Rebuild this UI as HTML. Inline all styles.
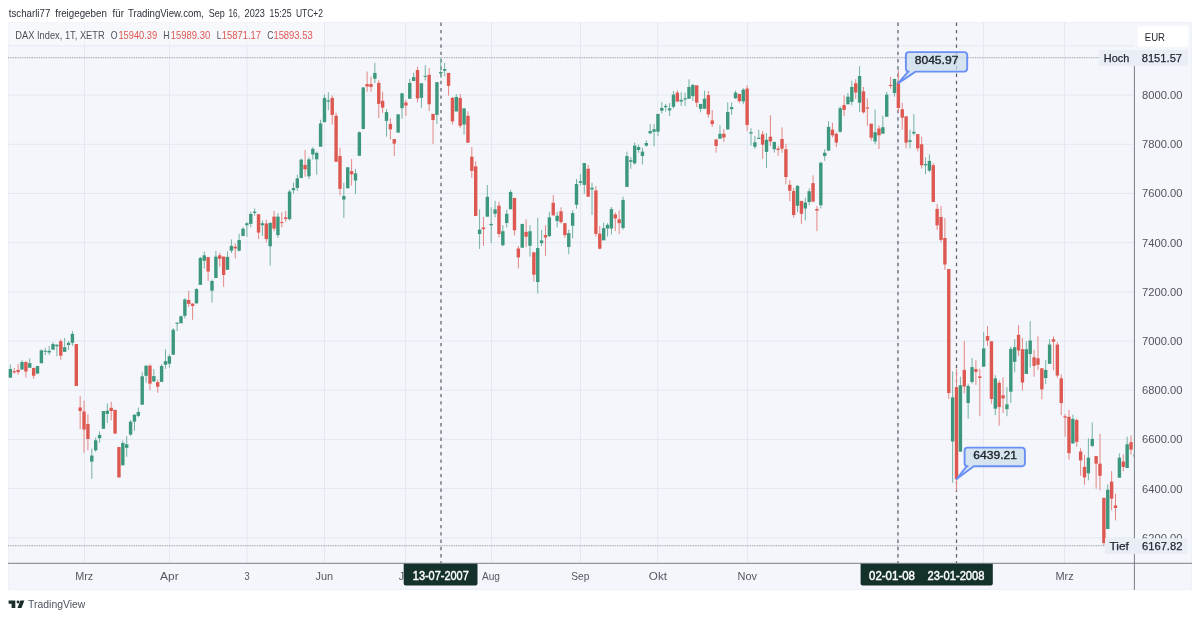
<!DOCTYPE html>
<html lang="de"><head><meta charset="utf-8"><title>DAX Index Chart</title>
<style>
html,body{margin:0;padding:0;background:#fff;}
body{width:1200px;height:619px;overflow:hidden;position:relative;font-family:"Liberation Sans", "DejaVu Sans", sans-serif;}
svg{position:absolute;left:0;top:0;display:block;}
svg text{font-family:"Liberation Sans", "DejaVu Sans", sans-serif;}
</style></head><body>
<svg width="1200" height="619" viewBox="0 0 1200 619">
<rect x="8" y="22" width="1184" height="568" fill="#f4f6fb"/>
<rect x="8.5" y="22.5" width="1183" height="567" fill="none" stroke="#ecf0f7" stroke-width="1"/>
<line x1="8" x2="1134" y1="537.81" y2="537.81" stroke="#e3e8f3" stroke-width="1"/>
<line x1="8" x2="1134" y1="488.62" y2="488.62" stroke="#e3e8f3" stroke-width="1"/>
<line x1="8" x2="1134" y1="439.43" y2="439.43" stroke="#e3e8f3" stroke-width="1"/>
<line x1="8" x2="1134" y1="390.24" y2="390.24" stroke="#e3e8f3" stroke-width="1"/>
<line x1="8" x2="1134" y1="341.05" y2="341.05" stroke="#e3e8f3" stroke-width="1"/>
<line x1="8" x2="1134" y1="291.86" y2="291.86" stroke="#e3e8f3" stroke-width="1"/>
<line x1="8" x2="1134" y1="242.67" y2="242.67" stroke="#e3e8f3" stroke-width="1"/>
<line x1="8" x2="1134" y1="193.48" y2="193.48" stroke="#e3e8f3" stroke-width="1"/>
<line x1="8" x2="1134" y1="144.29" y2="144.29" stroke="#e3e8f3" stroke-width="1"/>
<line x1="8" x2="1134" y1="95.10" y2="95.10" stroke="#e3e8f3" stroke-width="1"/>
<line x1="8" x2="1134" y1="45.91" y2="45.91" stroke="#e3e8f3" stroke-width="1"/>
<line x1="84.50" x2="84.50" y1="22" y2="563" stroke="#e3e8f3" stroke-width="1"/>
<line x1="169.50" x2="169.50" y1="22" y2="563" stroke="#e3e8f3" stroke-width="1"/>
<line x1="247.00" x2="247.00" y1="22" y2="563" stroke="#e3e8f3" stroke-width="1"/>
<line x1="324.50" x2="324.50" y1="22" y2="563" stroke="#e3e8f3" stroke-width="1"/>
<line x1="405.50" x2="405.50" y1="22" y2="563" stroke="#e3e8f3" stroke-width="1"/>
<line x1="491.50" x2="491.50" y1="22" y2="563" stroke="#e3e8f3" stroke-width="1"/>
<line x1="580.50" x2="580.50" y1="22" y2="563" stroke="#e3e8f3" stroke-width="1"/>
<line x1="657.70" x2="657.70" y1="22" y2="563" stroke="#e3e8f3" stroke-width="1"/>
<line x1="747.40" x2="747.40" y1="22" y2="563" stroke="#e3e8f3" stroke-width="1"/>
<line x1="897.60" x2="897.60" y1="22" y2="563" stroke="#e3e8f3" stroke-width="1"/>
<line x1="983.40" x2="983.40" y1="22" y2="563" stroke="#e3e8f3" stroke-width="1"/>
<line x1="1064.50" x2="1064.50" y1="22" y2="563" stroke="#e3e8f3" stroke-width="1"/>
<rect x="8" y="22" width="316" height="23.3" rx="2" fill="#f8f9fc" opacity="0.55"/>
<line x1="8" x2="1099" y1="57.7" y2="57.7" stroke="#a3a8b2" stroke-width="1.2" stroke-dasharray="0.9 0.83"/>
<line x1="8" x2="1105" y1="545.6" y2="545.6" stroke="#a3a8b2" stroke-width="1.2" stroke-dasharray="0.9 0.83"/>
<line x1="441.00" x2="441.00" y1="22" y2="563" stroke="#5a6268" stroke-width="1.25" stroke-dasharray="3.4 3.88" stroke-dashoffset="-0.6"/>
<line x1="898.00" x2="898.00" y1="22" y2="563" stroke="#5a6268" stroke-width="1.25" stroke-dasharray="3.4 3.88" stroke-dashoffset="-0.6"/>
<line x1="956.50" x2="956.50" y1="22" y2="563" stroke="#5a6268" stroke-width="1.25" stroke-dasharray="3.4 3.88" stroke-dashoffset="-0.6"/>
<clipPath id="cp"><rect x="8" y="22" width="1125.7" height="541"/></clipPath>
<g id="candles" clip-path="url(#cp)">
<line x1="10.37" x2="10.37" y1="364.40" y2="377.67" stroke="#74b3a3" stroke-width="1"/>
<rect x="8.67" y="368.95" width="3.4" height="8.72" fill="#3d977d"/>
<line x1="14.25" x2="14.25" y1="367.98" y2="373.80" stroke="#e48784" stroke-width="1"/>
<rect x="12.55" y="371.18" width="3.4" height="1.16" fill="#de5852"/>
<line x1="18.13" x2="18.13" y1="363.91" y2="374.77" stroke="#e48784" stroke-width="1"/>
<rect x="16.43" y="369.92" width="3.4" height="2.23" fill="#de5852"/>
<line x1="22.00" x2="22.00" y1="360.23" y2="369.73" stroke="#74b3a3" stroke-width="1"/>
<rect x="20.30" y="361.98" width="3.4" height="7.55" fill="#3d977d"/>
<line x1="25.88" x2="25.88" y1="361.20" y2="377.48" stroke="#e48784" stroke-width="1"/>
<rect x="24.18" y="361.98" width="3.4" height="9.49" fill="#de5852"/>
<line x1="29.76" x2="29.76" y1="358.29" y2="367.98" stroke="#74b3a3" stroke-width="1"/>
<rect x="28.06" y="363.14" width="3.4" height="4.65" fill="#3d977d"/>
<line x1="33.64" x2="33.64" y1="367.60" y2="378.74" stroke="#e48784" stroke-width="1"/>
<rect x="31.94" y="367.98" width="3.4" height="7.76" fill="#de5852"/>
<line x1="37.51" x2="37.51" y1="366.05" y2="373.60" stroke="#74b3a3" stroke-width="1"/>
<rect x="35.81" y="366.05" width="3.4" height="7.55" fill="#3d977d"/>
<line x1="41.39" x2="41.39" y1="349.38" y2="363.72" stroke="#74b3a3" stroke-width="1"/>
<rect x="39.69" y="350.35" width="3.4" height="12.79" fill="#3d977d"/>
<line x1="45.27" x2="45.27" y1="347.93" y2="355.00" stroke="#74b3a3" stroke-width="1"/>
<rect x="43.57" y="350.81" width="3.4" height="1.00" fill="#3d977d"/>
<line x1="49.15" x2="49.15" y1="345.99" y2="354.90" stroke="#74b3a3" stroke-width="1"/>
<rect x="47.45" y="350.83" width="3.4" height="1.65" fill="#3d977d"/>
<line x1="53.02" x2="53.02" y1="342.11" y2="349.86" stroke="#74b3a3" stroke-width="1"/>
<rect x="51.32" y="344.05" width="3.4" height="5.62" fill="#3d977d"/>
<line x1="56.90" x2="56.90" y1="344.34" y2="356.16" stroke="#74b3a3" stroke-width="1"/>
<rect x="55.20" y="344.73" width="3.4" height="1.55" fill="#3d977d"/>
<line x1="60.78" x2="60.78" y1="339.21" y2="359.84" stroke="#e48784" stroke-width="1"/>
<rect x="59.08" y="341.14" width="3.4" height="14.54" fill="#de5852"/>
<line x1="64.66" x2="64.66" y1="337.95" y2="351.80" stroke="#74b3a3" stroke-width="1"/>
<rect x="62.96" y="347.25" width="3.4" height="4.55" fill="#3d977d"/>
<line x1="68.54" x2="68.54" y1="341.14" y2="349.86" stroke="#74b3a3" stroke-width="1"/>
<rect x="66.84" y="342.79" width="3.4" height="2.23" fill="#3d977d"/>
<line x1="72.41" x2="72.41" y1="331.16" y2="345.79" stroke="#74b3a3" stroke-width="1"/>
<rect x="70.71" y="333.88" width="3.4" height="8.91" fill="#3d977d"/>
<line x1="76.29" x2="76.29" y1="344.05" y2="386.01" stroke="#e48784" stroke-width="1"/>
<rect x="74.59" y="344.05" width="3.4" height="41.96" fill="#de5852"/>
<line x1="80.17" x2="80.17" y1="396.16" y2="429.27" stroke="#e48784" stroke-width="1"/>
<rect x="78.47" y="407.46" width="3.4" height="3.56" fill="#de5852"/>
<line x1="84.05" x2="84.05" y1="400.68" y2="452.70" stroke="#e48784" stroke-width="1"/>
<rect x="82.35" y="411.50" width="3.4" height="18.10" fill="#de5852"/>
<line x1="87.92" x2="87.92" y1="414.25" y2="450.27" stroke="#e48784" stroke-width="1"/>
<rect x="86.22" y="423.94" width="3.4" height="15.03" fill="#de5852"/>
<line x1="91.80" x2="91.80" y1="448.66" y2="478.87" stroke="#74b3a3" stroke-width="1"/>
<rect x="90.10" y="455.61" width="3.4" height="5.97" fill="#3d977d"/>
<line x1="95.68" x2="95.68" y1="437.35" y2="451.89" stroke="#74b3a3" stroke-width="1"/>
<rect x="93.98" y="440.26" width="3.4" height="10.01" fill="#3d977d"/>
<line x1="99.56" x2="99.56" y1="431.37" y2="442.68" stroke="#74b3a3" stroke-width="1"/>
<rect x="97.86" y="434.93" width="3.4" height="3.23" fill="#3d977d"/>
<line x1="103.43" x2="103.43" y1="411.02" y2="428.79" stroke="#74b3a3" stroke-width="1"/>
<rect x="101.73" y="411.02" width="3.4" height="17.77" fill="#3d977d"/>
<line x1="107.31" x2="107.31" y1="403.42" y2="422.81" stroke="#74b3a3" stroke-width="1"/>
<rect x="105.61" y="410.69" width="3.4" height="3.24" fill="#3d977d"/>
<line x1="111.19" x2="111.19" y1="401.81" y2="420.39" stroke="#e48784" stroke-width="1"/>
<rect x="109.49" y="407.79" width="3.4" height="3.23" fill="#de5852"/>
<line x1="115.07" x2="115.07" y1="409.89" y2="433.63" stroke="#e48784" stroke-width="1"/>
<rect x="113.37" y="409.89" width="3.4" height="23.74" fill="#de5852"/>
<line x1="118.95" x2="118.95" y1="447.04" y2="477.42" stroke="#e48784" stroke-width="1"/>
<rect x="117.25" y="447.04" width="3.4" height="30.38" fill="#de5852"/>
<line x1="122.82" x2="122.82" y1="440.58" y2="465.30" stroke="#74b3a3" stroke-width="1"/>
<rect x="121.12" y="443.00" width="3.4" height="22.30" fill="#3d977d"/>
<line x1="126.70" x2="126.70" y1="436.06" y2="456.74" stroke="#74b3a3" stroke-width="1"/>
<rect x="125.00" y="444.30" width="3.4" height="3.55" fill="#3d977d"/>
<line x1="130.58" x2="130.58" y1="420.06" y2="435.74" stroke="#74b3a3" stroke-width="1"/>
<rect x="128.88" y="421.68" width="3.4" height="12.92" fill="#3d977d"/>
<line x1="134.46" x2="134.46" y1="414.25" y2="430.89" stroke="#74b3a3" stroke-width="1"/>
<rect x="132.76" y="414.73" width="3.4" height="6.95" fill="#3d977d"/>
<line x1="138.33" x2="138.33" y1="407.46" y2="417.16" stroke="#74b3a3" stroke-width="1"/>
<rect x="136.63" y="411.99" width="3.4" height="3.87" fill="#3d977d"/>
<line x1="142.21" x2="142.21" y1="372.17" y2="404.72" stroke="#74b3a3" stroke-width="1"/>
<rect x="140.51" y="376.34" width="3.4" height="28.38" fill="#3d977d"/>
<line x1="146.09" x2="146.09" y1="365.39" y2="382.64" stroke="#74b3a3" stroke-width="1"/>
<rect x="144.39" y="365.68" width="3.4" height="10.17" fill="#3d977d"/>
<line x1="149.97" x2="149.97" y1="364.22" y2="390.19" stroke="#e48784" stroke-width="1"/>
<rect x="148.27" y="365.68" width="3.4" height="17.92" fill="#de5852"/>
<line x1="153.84" x2="153.84" y1="369.07" y2="381.67" stroke="#74b3a3" stroke-width="1"/>
<rect x="152.14" y="376.05" width="3.4" height="5.42" fill="#3d977d"/>
<line x1="157.72" x2="157.72" y1="379.53" y2="392.81" stroke="#e48784" stroke-width="1"/>
<rect x="156.02" y="382.15" width="3.4" height="4.56" fill="#de5852"/>
<line x1="161.60" x2="161.60" y1="364.22" y2="381.86" stroke="#74b3a3" stroke-width="1"/>
<rect x="159.90" y="365.97" width="3.4" height="15.89" fill="#3d977d"/>
<line x1="165.48" x2="165.48" y1="349.21" y2="368.88" stroke="#74b3a3" stroke-width="1"/>
<rect x="163.78" y="361.12" width="3.4" height="3.59" fill="#3d977d"/>
<line x1="169.36" x2="169.36" y1="354.34" y2="367.62" stroke="#74b3a3" stroke-width="1"/>
<rect x="167.66" y="356.28" width="3.4" height="7.46" fill="#3d977d"/>
<line x1="173.23" x2="173.23" y1="328.16" y2="354.73" stroke="#74b3a3" stroke-width="1"/>
<rect x="171.53" y="329.71" width="3.4" height="25.02" fill="#3d977d"/>
<line x1="177.11" x2="177.11" y1="322.34" y2="331.00" stroke="#74b3a3" stroke-width="1"/>
<rect x="175.41" y="322.73" width="3.4" height="1.03" fill="#3d977d"/>
<line x1="180.99" x2="180.99" y1="315.49" y2="323.25" stroke="#74b3a3" stroke-width="1"/>
<rect x="179.29" y="316.27" width="3.4" height="6.98" fill="#3d977d"/>
<line x1="184.87" x2="184.87" y1="298.17" y2="318.47" stroke="#74b3a3" stroke-width="1"/>
<rect x="183.17" y="299.47" width="3.4" height="16.41" fill="#3d977d"/>
<line x1="188.74" x2="188.74" y1="290.68" y2="306.83" stroke="#e48784" stroke-width="1"/>
<rect x="187.04" y="299.98" width="3.4" height="3.88" fill="#de5852"/>
<line x1="192.62" x2="192.62" y1="303.34" y2="319.76" stroke="#e48784" stroke-width="1"/>
<rect x="190.92" y="303.60" width="3.4" height="2.33" fill="#de5852"/>
<line x1="196.50" x2="196.50" y1="288.09" y2="303.60" stroke="#74b3a3" stroke-width="1"/>
<rect x="194.80" y="289.13" width="3.4" height="14.21" fill="#3d977d"/>
<line x1="200.38" x2="200.38" y1="256.87" y2="284.86" stroke="#74b3a3" stroke-width="1"/>
<rect x="198.68" y="257.90" width="3.4" height="26.96" fill="#3d977d"/>
<line x1="204.25" x2="204.25" y1="251.44" y2="268.50" stroke="#74b3a3" stroke-width="1"/>
<rect x="202.55" y="255.32" width="3.4" height="5.42" fill="#3d977d"/>
<line x1="208.13" x2="208.13" y1="257.12" y2="280.99" stroke="#e48784" stroke-width="1"/>
<rect x="206.43" y="257.12" width="3.4" height="14.43" fill="#de5852"/>
<line x1="212.01" x2="212.01" y1="279.69" y2="302.57" stroke="#74b3a3" stroke-width="1"/>
<rect x="210.31" y="280.99" width="3.4" height="9.69" fill="#3d977d"/>
<line x1="215.89" x2="215.89" y1="251.05" y2="278.01" stroke="#74b3a3" stroke-width="1"/>
<rect x="214.19" y="256.61" width="3.4" height="21.40" fill="#3d977d"/>
<line x1="219.77" x2="219.77" y1="252.73" y2="266.56" stroke="#e48784" stroke-width="1"/>
<rect x="218.07" y="255.32" width="3.4" height="3.48" fill="#de5852"/>
<line x1="223.64" x2="223.64" y1="256.61" y2="286.80" stroke="#e48784" stroke-width="1"/>
<rect x="221.94" y="256.61" width="3.4" height="18.30" fill="#de5852"/>
<line x1="227.52" x2="227.52" y1="251.44" y2="269.79" stroke="#74b3a3" stroke-width="1"/>
<rect x="225.82" y="256.87" width="3.4" height="12.92" fill="#3d977d"/>
<line x1="231.40" x2="231.40" y1="239.42" y2="252.99" stroke="#74b3a3" stroke-width="1"/>
<rect x="229.70" y="245.88" width="3.4" height="4.78" fill="#3d977d"/>
<line x1="235.28" x2="235.28" y1="243.30" y2="258.42" stroke="#e48784" stroke-width="1"/>
<rect x="233.58" y="246.79" width="3.4" height="1.68" fill="#de5852"/>
<line x1="239.15" x2="239.15" y1="233.86" y2="251.44" stroke="#74b3a3" stroke-width="1"/>
<rect x="237.45" y="240.06" width="3.4" height="10.60" fill="#3d977d"/>
<line x1="243.03" x2="243.03" y1="227.14" y2="236.45" stroke="#74b3a3" stroke-width="1"/>
<rect x="241.33" y="228.69" width="3.4" height="7.24" fill="#3d977d"/>
<line x1="246.91" x2="246.91" y1="222.23" y2="236.83" stroke="#74b3a3" stroke-width="1"/>
<rect x="245.21" y="223.26" width="3.4" height="1.94" fill="#3d977d"/>
<line x1="250.79" x2="250.79" y1="211.63" y2="227.40" stroke="#74b3a3" stroke-width="1"/>
<rect x="249.09" y="213.96" width="3.4" height="9.95" fill="#3d977d"/>
<line x1="254.67" x2="254.67" y1="208.40" y2="215.77" stroke="#74b3a3" stroke-width="1"/>
<rect x="252.97" y="211.63" width="3.4" height="1.29" fill="#3d977d"/>
<line x1="258.54" x2="258.54" y1="214.22" y2="239.03" stroke="#e48784" stroke-width="1"/>
<rect x="256.84" y="214.22" width="3.4" height="18.35" fill="#de5852"/>
<line x1="262.42" x2="262.42" y1="220.42" y2="235.93" stroke="#74b3a3" stroke-width="1"/>
<rect x="260.72" y="223.26" width="3.4" height="1.94" fill="#3d977d"/>
<line x1="266.30" x2="266.30" y1="219.64" y2="242.39" stroke="#e48784" stroke-width="1"/>
<rect x="264.60" y="223.52" width="3.4" height="15.51" fill="#de5852"/>
<line x1="270.18" x2="270.18" y1="221.97" y2="265.65" stroke="#74b3a3" stroke-width="1"/>
<rect x="268.48" y="223.00" width="3.4" height="23.27" fill="#3d977d"/>
<line x1="274.05" x2="274.05" y1="210.93" y2="231.22" stroke="#e48784" stroke-width="1"/>
<rect x="272.35" y="216.62" width="3.4" height="12.01" fill="#de5852"/>
<line x1="277.93" x2="277.93" y1="213.13" y2="237.68" stroke="#74b3a3" stroke-width="1"/>
<rect x="276.23" y="216.62" width="3.4" height="18.48" fill="#3d977d"/>
<line x1="281.81" x2="281.81" y1="212.22" y2="227.34" stroke="#e48784" stroke-width="1"/>
<rect x="280.11" y="222.12" width="3.4" height="1.00" fill="#de5852"/>
<line x1="285.69" x2="285.69" y1="210.93" y2="221.79" stroke="#e48784" stroke-width="1"/>
<rect x="283.99" y="217.39" width="3.4" height="1.55" fill="#de5852"/>
<line x1="289.56" x2="289.56" y1="189.86" y2="220.23" stroke="#74b3a3" stroke-width="1"/>
<rect x="287.86" y="191.54" width="3.4" height="27.66" fill="#3d977d"/>
<line x1="293.44" x2="293.44" y1="182.50" y2="193.74" stroke="#74b3a3" stroke-width="1"/>
<rect x="291.74" y="188.18" width="3.4" height="2.07" fill="#3d977d"/>
<line x1="297.32" x2="297.32" y1="174.66" y2="190.77" stroke="#74b3a3" stroke-width="1"/>
<rect x="295.62" y="178.38" width="3.4" height="9.54" fill="#3d977d"/>
<line x1="301.20" x2="301.20" y1="158.51" y2="178.38" stroke="#74b3a3" stroke-width="1"/>
<rect x="299.50" y="159.64" width="3.4" height="18.25" fill="#3d977d"/>
<line x1="305.08" x2="305.08" y1="149.94" y2="176.76" stroke="#e48784" stroke-width="1"/>
<rect x="303.38" y="164.97" width="3.4" height="4.36" fill="#de5852"/>
<line x1="308.95" x2="308.95" y1="157.37" y2="179.02" stroke="#74b3a3" stroke-width="1"/>
<rect x="307.25" y="159.31" width="3.4" height="16.97" fill="#3d977d"/>
<line x1="312.83" x2="312.83" y1="147.20" y2="159.64" stroke="#74b3a3" stroke-width="1"/>
<rect x="311.13" y="148.81" width="3.4" height="5.66" fill="#3d977d"/>
<line x1="316.71" x2="316.71" y1="151.56" y2="174.66" stroke="#74b3a3" stroke-width="1"/>
<rect x="315.01" y="152.85" width="3.4" height="6.46" fill="#3d977d"/>
<line x1="320.59" x2="320.59" y1="119.73" y2="146.71" stroke="#74b3a3" stroke-width="1"/>
<rect x="318.89" y="123.45" width="3.4" height="23.26" fill="#3d977d"/>
<line x1="324.46" x2="324.46" y1="94.37" y2="122.16" stroke="#74b3a3" stroke-width="1"/>
<rect x="322.76" y="97.92" width="3.4" height="24.24" fill="#3d977d"/>
<line x1="328.34" x2="328.34" y1="92.27" y2="110.04" stroke="#74b3a3" stroke-width="1"/>
<rect x="326.64" y="100.35" width="3.4" height="1.29" fill="#3d977d"/>
<line x1="332.22" x2="332.22" y1="95.50" y2="124.58" stroke="#e48784" stroke-width="1"/>
<rect x="330.52" y="97.92" width="3.4" height="16.97" fill="#de5852"/>
<line x1="336.10" x2="336.10" y1="112.79" y2="161.74" stroke="#e48784" stroke-width="1"/>
<rect x="334.40" y="115.69" width="3.4" height="46.05" fill="#de5852"/>
<line x1="339.97" x2="339.97" y1="147.68" y2="195.37" stroke="#e48784" stroke-width="1"/>
<rect x="338.27" y="156.08" width="3.4" height="32.80" fill="#de5852"/>
<line x1="343.85" x2="343.85" y1="182.77" y2="217.95" stroke="#74b3a3" stroke-width="1"/>
<rect x="342.15" y="196.05" width="3.4" height="3.48" fill="#3d977d"/>
<line x1="347.73" x2="347.73" y1="167.27" y2="188.29" stroke="#74b3a3" stroke-width="1"/>
<rect x="346.03" y="167.27" width="3.4" height="21.02" fill="#3d977d"/>
<line x1="351.61" x2="351.61" y1="158.99" y2="185.68" stroke="#e48784" stroke-width="1"/>
<rect x="349.91" y="171.14" width="3.4" height="3.20" fill="#de5852"/>
<line x1="355.49" x2="355.49" y1="168.91" y2="193.91" stroke="#74b3a3" stroke-width="1"/>
<rect x="353.79" y="173.37" width="3.4" height="7.17" fill="#3d977d"/>
<line x1="359.36" x2="359.36" y1="131.53" y2="156.08" stroke="#74b3a3" stroke-width="1"/>
<rect x="357.66" y="132.17" width="3.4" height="23.59" fill="#3d977d"/>
<line x1="363.24" x2="363.24" y1="86.98" y2="129.43" stroke="#74b3a3" stroke-width="1"/>
<rect x="361.54" y="87.46" width="3.4" height="41.48" fill="#3d977d"/>
<line x1="367.12" x2="367.12" y1="71.47" y2="91.82" stroke="#e48784" stroke-width="1"/>
<rect x="365.42" y="84.07" width="3.4" height="2.42" fill="#de5852"/>
<line x1="371.00" x2="371.00" y1="76.80" y2="91.82" stroke="#e48784" stroke-width="1"/>
<rect x="369.30" y="84.07" width="3.4" height="2.91" fill="#de5852"/>
<line x1="374.87" x2="374.87" y1="62.95" y2="83.10" stroke="#74b3a3" stroke-width="1"/>
<rect x="373.17" y="72.93" width="3.4" height="5.81" fill="#3d977d"/>
<line x1="378.75" x2="378.75" y1="80.19" y2="118.12" stroke="#e48784" stroke-width="1"/>
<rect x="377.05" y="82.91" width="3.4" height="21.02" fill="#de5852"/>
<line x1="382.63" x2="382.63" y1="91.79" y2="112.79" stroke="#e48784" stroke-width="1"/>
<rect x="380.93" y="100.83" width="3.4" height="6.79" fill="#de5852"/>
<line x1="386.51" x2="386.51" y1="109.23" y2="136.70" stroke="#74b3a3" stroke-width="1"/>
<rect x="384.81" y="112.14" width="3.4" height="8.72" fill="#3d977d"/>
<line x1="390.38" x2="390.38" y1="118.26" y2="139.57" stroke="#e48784" stroke-width="1"/>
<rect x="388.68" y="123.88" width="3.4" height="5.52" fill="#de5852"/>
<line x1="394.26" x2="394.26" y1="139.09" y2="155.93" stroke="#e48784" stroke-width="1"/>
<rect x="392.56" y="139.09" width="3.4" height="4.55" fill="#de5852"/>
<line x1="398.14" x2="398.14" y1="114.38" y2="132.60" stroke="#74b3a3" stroke-width="1"/>
<rect x="396.44" y="114.38" width="3.4" height="18.22" fill="#3d977d"/>
<line x1="402.02" x2="402.02" y1="93.28" y2="118.74" stroke="#74b3a3" stroke-width="1"/>
<rect x="400.32" y="93.28" width="3.4" height="14.82" fill="#3d977d"/>
<line x1="405.90" x2="405.90" y1="99.77" y2="115.83" stroke="#e48784" stroke-width="1"/>
<rect x="404.20" y="102.48" width="3.4" height="3.10" fill="#de5852"/>
<line x1="409.77" x2="409.77" y1="78.74" y2="98.80" stroke="#74b3a3" stroke-width="1"/>
<rect x="408.07" y="82.91" width="3.4" height="15.89" fill="#3d977d"/>
<line x1="413.65" x2="413.65" y1="72.64" y2="80.97" stroke="#74b3a3" stroke-width="1"/>
<rect x="411.95" y="77.09" width="3.4" height="3.88" fill="#3d977d"/>
<line x1="417.53" x2="417.53" y1="66.82" y2="102.29" stroke="#e48784" stroke-width="1"/>
<rect x="415.83" y="70.02" width="3.4" height="28.39" fill="#de5852"/>
<line x1="421.41" x2="421.41" y1="83.29" y2="107.81" stroke="#74b3a3" stroke-width="1"/>
<rect x="419.71" y="83.29" width="3.4" height="14.54" fill="#3d977d"/>
<line x1="425.28" x2="425.28" y1="65.17" y2="80.39" stroke="#74b3a3" stroke-width="1"/>
<rect x="423.58" y="75.81" width="3.4" height="1.00" fill="#3d977d"/>
<line x1="429.16" x2="429.16" y1="68.08" y2="111.01" stroke="#e48784" stroke-width="1"/>
<rect x="427.46" y="74.86" width="3.4" height="29.36" fill="#de5852"/>
<line x1="433.04" x2="433.04" y1="113.90" y2="143.93" stroke="#e48784" stroke-width="1"/>
<rect x="431.34" y="113.90" width="3.4" height="6.10" fill="#de5852"/>
<line x1="436.92" x2="436.92" y1="82.13" y2="123.88" stroke="#74b3a3" stroke-width="1"/>
<rect x="435.22" y="82.13" width="3.4" height="32.73" fill="#3d977d"/>
<line x1="440.79" x2="440.79" y1="57.71" y2="78.26" stroke="#74b3a3" stroke-width="1"/>
<rect x="439.09" y="71.96" width="3.4" height="1.45" fill="#3d977d"/>
<line x1="444.67" x2="444.67" y1="62.95" y2="76.32" stroke="#74b3a3" stroke-width="1"/>
<rect x="442.97" y="69.05" width="3.4" height="1.65" fill="#3d977d"/>
<line x1="448.55" x2="448.55" y1="72.93" y2="95.70" stroke="#e48784" stroke-width="1"/>
<rect x="446.85" y="72.93" width="3.4" height="12.88" fill="#de5852"/>
<line x1="452.43" x2="452.43" y1="96.94" y2="124.55" stroke="#e48784" stroke-width="1"/>
<rect x="450.73" y="97.91" width="3.4" height="23.45" fill="#de5852"/>
<line x1="456.31" x2="456.31" y1="94.03" y2="111.47" stroke="#74b3a3" stroke-width="1"/>
<rect x="454.61" y="96.94" width="3.4" height="14.53" fill="#3d977d"/>
<line x1="460.18" x2="460.18" y1="94.03" y2="127.95" stroke="#e48784" stroke-width="1"/>
<rect x="458.48" y="97.91" width="3.4" height="27.90" fill="#de5852"/>
<line x1="464.06" x2="464.06" y1="108.37" y2="134.73" stroke="#74b3a3" stroke-width="1"/>
<rect x="462.36" y="108.37" width="3.4" height="16.18" fill="#3d977d"/>
<line x1="467.94" x2="467.94" y1="111.47" y2="142.67" stroke="#e48784" stroke-width="1"/>
<rect x="466.24" y="115.83" width="3.4" height="26.84" fill="#de5852"/>
<line x1="471.82" x2="471.82" y1="147.02" y2="178.02" stroke="#e48784" stroke-width="1"/>
<rect x="470.12" y="156.71" width="3.4" height="14.14" fill="#de5852"/>
<line x1="475.69" x2="475.69" y1="161.16" y2="216.01" stroke="#e48784" stroke-width="1"/>
<rect x="473.99" y="166.40" width="3.4" height="49.61" fill="#de5852"/>
<line x1="479.57" x2="479.57" y1="209.25" y2="248.99" stroke="#74b3a3" stroke-width="1"/>
<rect x="477.87" y="229.60" width="3.4" height="4.37" fill="#3d977d"/>
<line x1="483.45" x2="483.45" y1="217.00" y2="245.76" stroke="#e48784" stroke-width="1"/>
<rect x="481.75" y="227.50" width="3.4" height="1.62" fill="#de5852"/>
<line x1="487.33" x2="487.33" y1="185.02" y2="216.68" stroke="#74b3a3" stroke-width="1"/>
<rect x="485.63" y="196.81" width="3.4" height="19.87" fill="#3d977d"/>
<line x1="491.20" x2="491.20" y1="207.31" y2="243.17" stroke="#74b3a3" stroke-width="1"/>
<rect x="489.50" y="223.95" width="3.4" height="1.29" fill="#3d977d"/>
<line x1="495.08" x2="495.08" y1="200.85" y2="217.33" stroke="#74b3a3" stroke-width="1"/>
<rect x="493.38" y="209.41" width="3.4" height="4.36" fill="#3d977d"/>
<line x1="498.96" x2="498.96" y1="201.66" y2="237.20" stroke="#e48784" stroke-width="1"/>
<rect x="497.26" y="205.69" width="3.4" height="28.28" fill="#de5852"/>
<line x1="502.84" x2="502.84" y1="225.08" y2="246.08" stroke="#74b3a3" stroke-width="1"/>
<rect x="501.14" y="231.22" width="3.4" height="14.05" fill="#3d977d"/>
<line x1="506.72" x2="506.72" y1="209.73" y2="227.50" stroke="#74b3a3" stroke-width="1"/>
<rect x="505.02" y="213.77" width="3.4" height="9.21" fill="#3d977d"/>
<line x1="510.59" x2="510.59" y1="189.86" y2="209.25" stroke="#74b3a3" stroke-width="1"/>
<rect x="508.89" y="191.96" width="3.4" height="17.29" fill="#3d977d"/>
<line x1="514.47" x2="514.47" y1="197.94" y2="235.58" stroke="#e48784" stroke-width="1"/>
<rect x="512.77" y="197.94" width="3.4" height="32.31" fill="#de5852"/>
<line x1="518.35" x2="518.35" y1="246.08" y2="268.38" stroke="#e48784" stroke-width="1"/>
<rect x="516.65" y="248.51" width="3.4" height="8.88" fill="#de5852"/>
<line x1="522.23" x2="522.23" y1="223.95" y2="247.70" stroke="#74b3a3" stroke-width="1"/>
<rect x="520.53" y="223.95" width="3.4" height="23.75" fill="#3d977d"/>
<line x1="526.10" x2="526.10" y1="219.43" y2="246.89" stroke="#e48784" stroke-width="1"/>
<rect x="524.40" y="231.87" width="3.4" height="4.84" fill="#de5852"/>
<line x1="529.98" x2="529.98" y1="225.08" y2="256.58" stroke="#74b3a3" stroke-width="1"/>
<rect x="528.28" y="231.22" width="3.4" height="14.54" fill="#3d977d"/>
<line x1="533.86" x2="533.86" y1="252.25" y2="281.51" stroke="#e48784" stroke-width="1"/>
<rect x="532.16" y="252.25" width="3.4" height="22.48" fill="#de5852"/>
<line x1="537.74" x2="537.74" y1="217.81" y2="293.62" stroke="#74b3a3" stroke-width="1"/>
<rect x="536.04" y="248.08" width="3.4" height="33.92" fill="#3d977d"/>
<line x1="541.61" x2="541.61" y1="229.93" y2="246.08" stroke="#74b3a3" stroke-width="1"/>
<rect x="539.91" y="240.43" width="3.4" height="2.74" fill="#3d977d"/>
<line x1="545.49" x2="545.49" y1="225.40" y2="255.78" stroke="#e48784" stroke-width="1"/>
<rect x="543.79" y="235.10" width="3.4" height="2.42" fill="#de5852"/>
<line x1="549.37" x2="549.37" y1="211.83" y2="237.20" stroke="#74b3a3" stroke-width="1"/>
<rect x="547.67" y="217.33" width="3.4" height="18.74" fill="#3d977d"/>
<line x1="553.25" x2="553.25" y1="195.19" y2="215.39" stroke="#e48784" stroke-width="1"/>
<rect x="551.55" y="202.79" width="3.4" height="12.60" fill="#de5852"/>
<line x1="557.13" x2="557.13" y1="211.83" y2="227.50" stroke="#74b3a3" stroke-width="1"/>
<rect x="555.43" y="215.71" width="3.4" height="5.33" fill="#3d977d"/>
<line x1="561.00" x2="561.00" y1="207.31" y2="223.47" stroke="#e48784" stroke-width="1"/>
<rect x="559.30" y="211.35" width="3.4" height="10.82" fill="#de5852"/>
<line x1="564.88" x2="564.88" y1="223.14" y2="237.68" stroke="#e48784" stroke-width="1"/>
<rect x="563.18" y="223.14" width="3.4" height="11.96" fill="#de5852"/>
<line x1="568.76" x2="568.76" y1="229.60" y2="254.16" stroke="#74b3a3" stroke-width="1"/>
<rect x="567.06" y="233.16" width="3.4" height="13.73" fill="#3d977d"/>
<line x1="572.64" x2="572.64" y1="210.25" y2="238.20" stroke="#74b3a3" stroke-width="1"/>
<rect x="570.94" y="213.16" width="3.4" height="12.60" fill="#3d977d"/>
<line x1="576.51" x2="576.51" y1="178.91" y2="208.63" stroke="#74b3a3" stroke-width="1"/>
<rect x="574.81" y="184.08" width="3.4" height="20.68" fill="#3d977d"/>
<line x1="580.39" x2="580.39" y1="174.06" y2="185.69" stroke="#74b3a3" stroke-width="1"/>
<rect x="578.69" y="181.17" width="3.4" height="1.62" fill="#3d977d"/>
<line x1="584.27" x2="584.27" y1="163.08" y2="193.77" stroke="#74b3a3" stroke-width="1"/>
<rect x="582.57" y="163.08" width="3.4" height="21.81" fill="#3d977d"/>
<line x1="588.15" x2="588.15" y1="164.69" y2="196.68" stroke="#e48784" stroke-width="1"/>
<rect x="586.45" y="168.73" width="3.4" height="27.95" fill="#de5852"/>
<line x1="592.02" x2="592.02" y1="182.79" y2="215.10" stroke="#74b3a3" stroke-width="1"/>
<rect x="590.32" y="187.79" width="3.4" height="1.62" fill="#3d977d"/>
<line x1="595.90" x2="595.90" y1="186.02" y2="236.58" stroke="#e48784" stroke-width="1"/>
<rect x="594.20" y="190.54" width="3.4" height="43.30" fill="#de5852"/>
<line x1="599.78" x2="599.78" y1="226.08" y2="249.51" stroke="#e48784" stroke-width="1"/>
<rect x="598.08" y="233.68" width="3.4" height="15.02" fill="#de5852"/>
<line x1="603.66" x2="603.66" y1="222.53" y2="240.30" stroke="#74b3a3" stroke-width="1"/>
<rect x="601.96" y="228.18" width="3.4" height="12.12" fill="#3d977d"/>
<line x1="607.54" x2="607.54" y1="223.17" y2="236.58" stroke="#74b3a3" stroke-width="1"/>
<rect x="605.84" y="224.79" width="3.4" height="3.72" fill="#3d977d"/>
<line x1="611.41" x2="611.41" y1="207.02" y2="234.48" stroke="#74b3a3" stroke-width="1"/>
<rect x="609.71" y="209.12" width="3.4" height="19.39" fill="#3d977d"/>
<line x1="615.29" x2="615.29" y1="212.35" y2="230.93" stroke="#e48784" stroke-width="1"/>
<rect x="613.59" y="214.45" width="3.4" height="4.04" fill="#de5852"/>
<line x1="619.17" x2="619.17" y1="210.25" y2="234.16" stroke="#e48784" stroke-width="1"/>
<rect x="617.47" y="219.30" width="3.4" height="3.87" fill="#de5852"/>
<line x1="623.05" x2="623.05" y1="196.68" y2="229.64" stroke="#74b3a3" stroke-width="1"/>
<rect x="621.35" y="199.91" width="3.4" height="28.11" fill="#3d977d"/>
<line x1="626.92" x2="626.92" y1="151.58" y2="186.83" stroke="#74b3a3" stroke-width="1"/>
<rect x="625.22" y="156.11" width="3.4" height="30.72" fill="#3d977d"/>
<line x1="630.80" x2="630.80" y1="157.24" y2="168.87" stroke="#74b3a3" stroke-width="1"/>
<rect x="629.10" y="160.15" width="3.4" height="1.61" fill="#3d977d"/>
<line x1="634.68" x2="634.68" y1="142.37" y2="164.51" stroke="#74b3a3" stroke-width="1"/>
<rect x="632.98" y="145.61" width="3.4" height="17.77" fill="#3d977d"/>
<line x1="638.56" x2="638.56" y1="144.64" y2="152.71" stroke="#74b3a3" stroke-width="1"/>
<rect x="636.86" y="147.06" width="3.4" height="2.91" fill="#3d977d"/>
<line x1="642.44" x2="642.44" y1="147.54" y2="164.51" stroke="#74b3a3" stroke-width="1"/>
<rect x="640.74" y="151.58" width="3.4" height="4.37" fill="#3d977d"/>
<line x1="646.31" x2="646.31" y1="140.27" y2="146.74" stroke="#74b3a3" stroke-width="1"/>
<rect x="644.61" y="143.02" width="3.4" height="2.59" fill="#3d977d"/>
<line x1="650.19" x2="650.19" y1="124.12" y2="134.30" stroke="#74b3a3" stroke-width="1"/>
<rect x="648.49" y="131.07" width="3.4" height="2.26" fill="#3d977d"/>
<line x1="654.07" x2="654.07" y1="124.12" y2="146.25" stroke="#74b3a3" stroke-width="1"/>
<rect x="652.37" y="129.29" width="3.4" height="2.42" fill="#3d977d"/>
<line x1="657.95" x2="657.95" y1="113.94" y2="135.91" stroke="#74b3a3" stroke-width="1"/>
<rect x="656.25" y="113.94" width="3.4" height="17.77" fill="#3d977d"/>
<line x1="661.82" x2="661.82" y1="101.99" y2="113.62" stroke="#74b3a3" stroke-width="1"/>
<rect x="660.12" y="107.96" width="3.4" height="2.75" fill="#3d977d"/>
<line x1="665.70" x2="665.70" y1="103.93" y2="111.68" stroke="#74b3a3" stroke-width="1"/>
<rect x="664.00" y="105.86" width="3.4" height="1.30" fill="#3d977d"/>
<line x1="669.58" x2="669.58" y1="103.12" y2="116.04" stroke="#74b3a3" stroke-width="1"/>
<rect x="667.88" y="108.29" width="3.4" height="2.10" fill="#3d977d"/>
<line x1="673.46" x2="673.46" y1="91.00" y2="108.45" stroke="#74b3a3" stroke-width="1"/>
<rect x="671.76" y="94.56" width="3.4" height="12.27" fill="#3d977d"/>
<line x1="677.33" x2="677.33" y1="90.19" y2="102.31" stroke="#e48784" stroke-width="1"/>
<rect x="675.63" y="92.62" width="3.4" height="8.88" fill="#de5852"/>
<line x1="681.21" x2="681.21" y1="92.29" y2="105.86" stroke="#74b3a3" stroke-width="1"/>
<rect x="679.51" y="99.89" width="3.4" height="1.61" fill="#3d977d"/>
<line x1="685.09" x2="685.09" y1="92.62" y2="105.86" stroke="#74b3a3" stroke-width="1"/>
<rect x="683.39" y="98.27" width="3.4" height="1.13" fill="#3d977d"/>
<line x1="688.97" x2="688.97" y1="79.37" y2="98.76" stroke="#74b3a3" stroke-width="1"/>
<rect x="687.27" y="86.96" width="3.4" height="11.80" fill="#3d977d"/>
<line x1="692.85" x2="692.85" y1="84.22" y2="101.02" stroke="#74b3a3" stroke-width="1"/>
<rect x="691.15" y="84.86" width="3.4" height="11.31" fill="#3d977d"/>
<line x1="696.72" x2="696.72" y1="85.35" y2="107.16" stroke="#e48784" stroke-width="1"/>
<rect x="695.02" y="85.35" width="3.4" height="17.28" fill="#de5852"/>
<line x1="700.60" x2="700.60" y1="103.93" y2="112.33" stroke="#74b3a3" stroke-width="1"/>
<rect x="698.90" y="103.93" width="3.4" height="4.84" fill="#3d977d"/>
<line x1="704.48" x2="704.48" y1="90.68" y2="108.77" stroke="#74b3a3" stroke-width="1"/>
<rect x="702.78" y="98.76" width="3.4" height="10.01" fill="#3d977d"/>
<line x1="708.36" x2="708.36" y1="91.00" y2="117.66" stroke="#e48784" stroke-width="1"/>
<rect x="706.66" y="95.04" width="3.4" height="19.39" fill="#de5852"/>
<line x1="712.23" x2="712.23" y1="110.06" y2="126.87" stroke="#e48784" stroke-width="1"/>
<rect x="710.53" y="120.40" width="3.4" height="3.72" fill="#de5852"/>
<line x1="716.11" x2="716.11" y1="139.47" y2="152.71" stroke="#e48784" stroke-width="1"/>
<rect x="714.41" y="139.47" width="3.4" height="6.46" fill="#de5852"/>
<line x1="719.99" x2="719.99" y1="125.25" y2="138.66" stroke="#74b3a3" stroke-width="1"/>
<rect x="718.29" y="133.81" width="3.4" height="4.85" fill="#3d977d"/>
<line x1="723.87" x2="723.87" y1="128.97" y2="141.89" stroke="#e48784" stroke-width="1"/>
<rect x="722.17" y="133.81" width="3.4" height="3.72" fill="#de5852"/>
<line x1="727.74" x2="727.74" y1="102.31" y2="129.45" stroke="#74b3a3" stroke-width="1"/>
<rect x="726.04" y="112.00" width="3.4" height="17.45" fill="#3d977d"/>
<line x1="731.62" x2="731.62" y1="102.31" y2="114.91" stroke="#74b3a3" stroke-width="1"/>
<rect x="729.92" y="107.16" width="3.4" height="1.94" fill="#3d977d"/>
<line x1="735.50" x2="735.50" y1="90.68" y2="98.76" stroke="#74b3a3" stroke-width="1"/>
<rect x="733.80" y="92.62" width="3.4" height="5.65" fill="#3d977d"/>
<line x1="739.38" x2="739.38" y1="93.91" y2="103.12" stroke="#e48784" stroke-width="1"/>
<rect x="737.68" y="93.91" width="3.4" height="7.27" fill="#de5852"/>
<line x1="743.26" x2="743.26" y1="88.09" y2="104.25" stroke="#74b3a3" stroke-width="1"/>
<rect x="741.56" y="89.71" width="3.4" height="11.79" fill="#3d977d"/>
<line x1="747.13" x2="747.13" y1="85.35" y2="131.07" stroke="#e48784" stroke-width="1"/>
<rect x="745.43" y="88.58" width="3.4" height="36.35" fill="#de5852"/>
<line x1="751.01" x2="751.01" y1="128.16" y2="145.61" stroke="#74b3a3" stroke-width="1"/>
<rect x="749.31" y="132.20" width="3.4" height="1.29" fill="#3d977d"/>
<line x1="754.89" x2="754.89" y1="135.91" y2="148.84" stroke="#74b3a3" stroke-width="1"/>
<rect x="753.19" y="142.37" width="3.4" height="4.37" fill="#3d977d"/>
<line x1="758.77" x2="758.77" y1="129.77" y2="138.98" stroke="#74b3a3" stroke-width="1"/>
<rect x="757.07" y="137.85" width="3.4" height="1.13" fill="#3d977d"/>
<line x1="762.64" x2="762.64" y1="131.07" y2="158.85" stroke="#e48784" stroke-width="1"/>
<rect x="760.94" y="134.30" width="3.4" height="10.34" fill="#de5852"/>
<line x1="766.52" x2="766.52" y1="133.00" y2="168.06" stroke="#74b3a3" stroke-width="1"/>
<rect x="764.82" y="139.79" width="3.4" height="12.12" fill="#3d977d"/>
<line x1="770.40" x2="770.40" y1="115.23" y2="146.25" stroke="#e48784" stroke-width="1"/>
<rect x="768.70" y="136.72" width="3.4" height="4.69" fill="#de5852"/>
<line x1="774.28" x2="774.28" y1="141.89" y2="152.71" stroke="#74b3a3" stroke-width="1"/>
<rect x="772.58" y="141.89" width="3.4" height="7.27" fill="#3d977d"/>
<line x1="778.15" x2="778.15" y1="145.93" y2="155.95" stroke="#e48784" stroke-width="1"/>
<rect x="776.45" y="148.68" width="3.4" height="1.29" fill="#de5852"/>
<line x1="782.03" x2="782.03" y1="127.35" y2="152.71" stroke="#e48784" stroke-width="1"/>
<rect x="780.33" y="138.98" width="3.4" height="9.70" fill="#de5852"/>
<line x1="785.91" x2="785.91" y1="143.89" y2="184.27" stroke="#e48784" stroke-width="1"/>
<rect x="784.21" y="149.22" width="3.4" height="27.78" fill="#de5852"/>
<line x1="789.79" x2="789.79" y1="179.91" y2="201.24" stroke="#e48784" stroke-width="1"/>
<rect x="788.09" y="184.76" width="3.4" height="5.98" fill="#de5852"/>
<line x1="793.67" x2="793.67" y1="187.99" y2="217.71" stroke="#e48784" stroke-width="1"/>
<rect x="791.97" y="191.06" width="3.4" height="23.91" fill="#de5852"/>
<line x1="797.54" x2="797.54" y1="185.08" y2="212.22" stroke="#74b3a3" stroke-width="1"/>
<rect x="795.84" y="185.89" width="3.4" height="19.87" fill="#3d977d"/>
<line x1="801.42" x2="801.42" y1="200.91" y2="223.85" stroke="#e48784" stroke-width="1"/>
<rect x="799.72" y="200.91" width="3.4" height="12.93" fill="#de5852"/>
<line x1="805.30" x2="805.30" y1="197.68" y2="220.62" stroke="#74b3a3" stroke-width="1"/>
<rect x="803.60" y="202.53" width="3.4" height="5.98" fill="#3d977d"/>
<line x1="809.18" x2="809.18" y1="188.31" y2="205.27" stroke="#74b3a3" stroke-width="1"/>
<rect x="807.48" y="191.22" width="3.4" height="10.82" fill="#3d977d"/>
<line x1="813.05" x2="813.05" y1="175.39" y2="202.53" stroke="#e48784" stroke-width="1"/>
<rect x="811.35" y="183.14" width="3.4" height="18.42" fill="#de5852"/>
<line x1="816.93" x2="816.93" y1="206.08" y2="231.12" stroke="#e48784" stroke-width="1"/>
<rect x="815.23" y="208.99" width="3.4" height="1.62" fill="#de5852"/>
<line x1="820.81" x2="820.81" y1="161.66" y2="208.51" stroke="#74b3a3" stroke-width="1"/>
<rect x="819.11" y="162.79" width="3.4" height="42.48" fill="#3d977d"/>
<line x1="824.69" x2="824.69" y1="149.22" y2="160.85" stroke="#74b3a3" stroke-width="1"/>
<rect x="822.99" y="152.77" width="3.4" height="3.23" fill="#3d977d"/>
<line x1="828.56" x2="828.56" y1="121.24" y2="150.64" stroke="#74b3a3" stroke-width="1"/>
<rect x="826.86" y="126.89" width="3.4" height="23.75" fill="#3d977d"/>
<line x1="832.44" x2="832.44" y1="122.85" y2="137.39" stroke="#e48784" stroke-width="1"/>
<rect x="830.74" y="129.64" width="3.4" height="5.65" fill="#de5852"/>
<line x1="836.32" x2="836.32" y1="132.22" y2="147.08" stroke="#e48784" stroke-width="1"/>
<rect x="834.62" y="133.84" width="3.4" height="8.72" fill="#de5852"/>
<line x1="840.20" x2="840.20" y1="106.37" y2="132.87" stroke="#74b3a3" stroke-width="1"/>
<rect x="838.50" y="108.31" width="3.4" height="23.43" fill="#3d977d"/>
<line x1="844.08" x2="844.08" y1="95.39" y2="116.07" stroke="#e48784" stroke-width="1"/>
<rect x="842.38" y="105.08" width="3.4" height="4.85" fill="#de5852"/>
<line x1="847.95" x2="847.95" y1="92.96" y2="104.27" stroke="#74b3a3" stroke-width="1"/>
<rect x="846.25" y="96.68" width="3.4" height="7.59" fill="#3d977d"/>
<line x1="851.83" x2="851.83" y1="80.85" y2="105.40" stroke="#74b3a3" stroke-width="1"/>
<rect x="850.13" y="86.99" width="3.4" height="14.86" fill="#3d977d"/>
<line x1="855.71" x2="855.71" y1="79.23" y2="98.94" stroke="#e48784" stroke-width="1"/>
<rect x="854.01" y="83.27" width="3.4" height="9.21" fill="#de5852"/>
<line x1="859.59" x2="859.59" y1="66.31" y2="111.87" stroke="#74b3a3" stroke-width="1"/>
<rect x="857.89" y="76.00" width="3.4" height="26.66" fill="#3d977d"/>
<line x1="863.46" x2="863.46" y1="86.99" y2="113.48" stroke="#e48784" stroke-width="1"/>
<rect x="861.76" y="91.35" width="3.4" height="21.00" fill="#de5852"/>
<line x1="867.34" x2="867.34" y1="98.30" y2="125.76" stroke="#e48784" stroke-width="1"/>
<rect x="865.64" y="107.50" width="3.4" height="1.13" fill="#de5852"/>
<line x1="871.22" x2="871.22" y1="123.66" y2="140.62" stroke="#e48784" stroke-width="1"/>
<rect x="869.52" y="123.66" width="3.4" height="14.05" fill="#de5852"/>
<line x1="875.10" x2="875.10" y1="109.60" y2="144.18" stroke="#74b3a3" stroke-width="1"/>
<rect x="873.40" y="132.22" width="3.4" height="9.21" fill="#3d977d"/>
<line x1="878.97" x2="878.97" y1="125.27" y2="149.02" stroke="#e48784" stroke-width="1"/>
<rect x="877.27" y="128.51" width="3.4" height="6.78" fill="#de5852"/>
<line x1="882.85" x2="882.85" y1="115.58" y2="133.68" stroke="#74b3a3" stroke-width="1"/>
<rect x="881.15" y="127.21" width="3.4" height="6.47" fill="#3d977d"/>
<line x1="886.73" x2="886.73" y1="91.83" y2="116.71" stroke="#74b3a3" stroke-width="1"/>
<rect x="885.03" y="94.58" width="3.4" height="22.13" fill="#3d977d"/>
<line x1="890.61" x2="890.61" y1="76.81" y2="88.60" stroke="#e48784" stroke-width="1"/>
<rect x="888.91" y="84.89" width="3.4" height="1.13" fill="#de5852"/>
<line x1="894.49" x2="894.49" y1="78.91" y2="96.68" stroke="#74b3a3" stroke-width="1"/>
<rect x="892.79" y="78.91" width="3.4" height="14.05" fill="#3d977d"/>
<line x1="898.36" x2="898.36" y1="70.35" y2="112.35" stroke="#e48784" stroke-width="1"/>
<rect x="896.66" y="82.79" width="3.4" height="25.20" fill="#de5852"/>
<line x1="902.24" x2="902.24" y1="102.75" y2="129.73" stroke="#e48784" stroke-width="1"/>
<rect x="900.54" y="109.22" width="3.4" height="8.40" fill="#de5852"/>
<line x1="906.12" x2="906.12" y1="116.32" y2="148.31" stroke="#e48784" stroke-width="1"/>
<rect x="904.42" y="116.32" width="3.4" height="26.34" fill="#de5852"/>
<line x1="910.00" x2="910.00" y1="129.73" y2="148.31" stroke="#74b3a3" stroke-width="1"/>
<rect x="908.30" y="140.23" width="3.4" height="1.62" fill="#3d977d"/>
<line x1="913.87" x2="913.87" y1="114.06" y2="135.39" stroke="#74b3a3" stroke-width="1"/>
<rect x="912.17" y="131.83" width="3.4" height="1.62" fill="#3d977d"/>
<line x1="917.75" x2="917.75" y1="134.10" y2="151.22" stroke="#e48784" stroke-width="1"/>
<rect x="916.05" y="134.10" width="3.4" height="14.21" fill="#de5852"/>
<line x1="921.63" x2="921.63" y1="136.68" y2="168.51" stroke="#e48784" stroke-width="1"/>
<rect x="919.93" y="144.27" width="3.4" height="21.00" fill="#de5852"/>
<line x1="925.51" x2="925.51" y1="157.20" y2="174.16" stroke="#74b3a3" stroke-width="1"/>
<rect x="923.81" y="163.98" width="3.4" height="1.29" fill="#3d977d"/>
<line x1="929.38" x2="929.38" y1="154.45" y2="172.22" stroke="#74b3a3" stroke-width="1"/>
<rect x="927.68" y="160.91" width="3.4" height="9.70" fill="#3d977d"/>
<line x1="933.26" x2="933.26" y1="163.17" y2="201.96" stroke="#e48784" stroke-width="1"/>
<rect x="931.56" y="165.27" width="3.4" height="36.69" fill="#de5852"/>
<line x1="937.14" x2="937.14" y1="204.06" y2="229.91" stroke="#e48784" stroke-width="1"/>
<rect x="935.44" y="208.91" width="3.4" height="16.48" fill="#de5852"/>
<line x1="941.02" x2="941.02" y1="206.00" y2="242.35" stroke="#e48784" stroke-width="1"/>
<rect x="939.32" y="216.99" width="3.4" height="22.94" fill="#de5852"/>
<line x1="944.90" x2="944.90" y1="218.12" y2="269.81" stroke="#e48784" stroke-width="1"/>
<rect x="943.20" y="237.99" width="3.4" height="26.49" fill="#de5852"/>
<line x1="948.77" x2="948.77" y1="269.04" y2="398.97" stroke="#e48784" stroke-width="1"/>
<rect x="947.07" y="269.04" width="3.4" height="123.95" fill="#de5852"/>
<line x1="952.65" x2="952.65" y1="371.50" y2="482.71" stroke="#74b3a3" stroke-width="1"/>
<rect x="950.95" y="397.35" width="3.4" height="44.12" fill="#3d977d"/>
<line x1="956.53" x2="956.53" y1="369.08" y2="490.96" stroke="#e48784" stroke-width="1"/>
<rect x="954.83" y="387.17" width="3.4" height="92.15" fill="#de5852"/>
<line x1="960.41" x2="960.41" y1="376.83" y2="451.64" stroke="#74b3a3" stroke-width="1"/>
<rect x="958.71" y="385.23" width="3.4" height="66.41" fill="#3d977d"/>
<line x1="964.28" x2="964.28" y1="340.81" y2="393.31" stroke="#e48784" stroke-width="1"/>
<rect x="962.58" y="369.89" width="3.4" height="16.64" fill="#de5852"/>
<line x1="968.16" x2="968.16" y1="383.62" y2="418.84" stroke="#74b3a3" stroke-width="1"/>
<rect x="966.46" y="386.04" width="3.4" height="16.96" fill="#3d977d"/>
<line x1="972.04" x2="972.04" y1="358.09" y2="383.62" stroke="#74b3a3" stroke-width="1"/>
<rect x="970.34" y="367.14" width="3.4" height="14.86" fill="#3d977d"/>
<line x1="975.92" x2="975.92" y1="360.19" y2="384.91" stroke="#e48784" stroke-width="1"/>
<rect x="974.22" y="369.08" width="3.4" height="2.75" fill="#de5852"/>
<line x1="979.79" x2="979.79" y1="368.76" y2="416.25" stroke="#e48784" stroke-width="1"/>
<rect x="978.09" y="376.35" width="3.4" height="1.61" fill="#de5852"/>
<line x1="983.67" x2="983.67" y1="332.04" y2="366.66" stroke="#74b3a3" stroke-width="1"/>
<rect x="981.97" y="348.40" width="3.4" height="18.26" fill="#3d977d"/>
<line x1="987.55" x2="987.55" y1="326.07" y2="345.78" stroke="#e48784" stroke-width="1"/>
<rect x="985.85" y="336.08" width="3.4" height="4.53" fill="#de5852"/>
<line x1="991.43" x2="991.43" y1="341.29" y2="403.81" stroke="#e48784" stroke-width="1"/>
<rect x="989.73" y="341.29" width="3.4" height="57.68" fill="#de5852"/>
<line x1="995.31" x2="995.31" y1="375.22" y2="415.12" stroke="#74b3a3" stroke-width="1"/>
<rect x="993.61" y="378.45" width="3.4" height="30.21" fill="#3d977d"/>
<line x1="999.18" x2="999.18" y1="380.39" y2="425.62" stroke="#e48784" stroke-width="1"/>
<rect x="997.48" y="382.81" width="3.4" height="24.23" fill="#de5852"/>
<line x1="1003.06" x2="1003.06" y1="377.48" y2="413.02" stroke="#e48784" stroke-width="1"/>
<rect x="1001.36" y="395.25" width="3.4" height="3.23" fill="#de5852"/>
<line x1="1006.94" x2="1006.94" y1="387.17" y2="416.25" stroke="#74b3a3" stroke-width="1"/>
<rect x="1005.24" y="404.30" width="3.4" height="4.84" fill="#3d977d"/>
<line x1="1010.82" x2="1010.82" y1="346.46" y2="403.00" stroke="#74b3a3" stroke-width="1"/>
<rect x="1009.12" y="348.89" width="3.4" height="42.81" fill="#3d977d"/>
<line x1="1014.69" x2="1014.69" y1="339.19" y2="372.31" stroke="#74b3a3" stroke-width="1"/>
<rect x="1012.99" y="347.27" width="3.4" height="14.54" fill="#3d977d"/>
<line x1="1018.57" x2="1018.57" y1="325.14" y2="356.16" stroke="#e48784" stroke-width="1"/>
<rect x="1016.87" y="334.83" width="3.4" height="15.67" fill="#de5852"/>
<line x1="1022.45" x2="1022.45" y1="337.94" y2="390.61" stroke="#e48784" stroke-width="1"/>
<rect x="1020.75" y="349.25" width="3.4" height="33.28" fill="#de5852"/>
<line x1="1026.33" x2="1026.33" y1="341.17" y2="373.97" stroke="#74b3a3" stroke-width="1"/>
<rect x="1024.63" y="349.25" width="3.4" height="24.72" fill="#3d977d"/>
<line x1="1030.21" x2="1030.21" y1="321.14" y2="367.50" stroke="#74b3a3" stroke-width="1"/>
<rect x="1028.51" y="340.53" width="3.4" height="13.57" fill="#3d977d"/>
<line x1="1034.08" x2="1034.08" y1="349.73" y2="376.71" stroke="#e48784" stroke-width="1"/>
<rect x="1032.38" y="357.33" width="3.4" height="8.56" fill="#de5852"/>
<line x1="1037.96" x2="1037.96" y1="336.32" y2="369.93" stroke="#e48784" stroke-width="1"/>
<rect x="1036.26" y="358.30" width="3.4" height="6.46" fill="#de5852"/>
<line x1="1041.84" x2="1041.84" y1="368.31" y2="399.33" stroke="#e48784" stroke-width="1"/>
<rect x="1040.14" y="368.31" width="3.4" height="21.00" fill="#de5852"/>
<line x1="1045.72" x2="1045.72" y1="359.91" y2="384.14" stroke="#74b3a3" stroke-width="1"/>
<rect x="1044.02" y="369.93" width="3.4" height="8.07" fill="#3d977d"/>
<line x1="1049.59" x2="1049.59" y1="339.23" y2="363.79" stroke="#74b3a3" stroke-width="1"/>
<rect x="1047.89" y="344.56" width="3.4" height="19.23" fill="#3d977d"/>
<line x1="1053.47" x2="1053.47" y1="336.32" y2="370.25" stroke="#e48784" stroke-width="1"/>
<rect x="1051.77" y="339.23" width="3.4" height="2.43" fill="#de5852"/>
<line x1="1057.35" x2="1057.35" y1="342.14" y2="377.68" stroke="#e48784" stroke-width="1"/>
<rect x="1055.65" y="344.56" width="3.4" height="31.02" fill="#de5852"/>
<line x1="1061.23" x2="1061.23" y1="374.45" y2="415.19" stroke="#e48784" stroke-width="1"/>
<rect x="1059.53" y="378.33" width="3.4" height="24.72" fill="#de5852"/>
<line x1="1065.10" x2="1065.10" y1="414.06" y2="436.68" stroke="#e48784" stroke-width="1"/>
<rect x="1063.40" y="416.32" width="3.4" height="1.30" fill="#de5852"/>
<line x1="1068.98" x2="1068.98" y1="409.86" y2="459.62" stroke="#e48784" stroke-width="1"/>
<rect x="1067.28" y="416.81" width="3.4" height="36.35" fill="#de5852"/>
<line x1="1072.86" x2="1072.86" y1="414.71" y2="443.47" stroke="#74b3a3" stroke-width="1"/>
<rect x="1071.16" y="418.91" width="3.4" height="24.56" fill="#3d977d"/>
<line x1="1076.74" x2="1076.74" y1="418.42" y2="446.70" stroke="#e48784" stroke-width="1"/>
<rect x="1075.04" y="420.04" width="3.4" height="21.81" fill="#de5852"/>
<line x1="1080.62" x2="1080.62" y1="448.31" y2="475.78" stroke="#e48784" stroke-width="1"/>
<rect x="1078.92" y="451.54" width="3.4" height="8.89" fill="#de5852"/>
<line x1="1084.49" x2="1084.49" y1="455.10" y2="484.66" stroke="#e48784" stroke-width="1"/>
<rect x="1082.79" y="466.89" width="3.4" height="10.50" fill="#de5852"/>
<line x1="1088.37" x2="1088.37" y1="438.30" y2="480.30" stroke="#74b3a3" stroke-width="1"/>
<rect x="1086.67" y="457.68" width="3.4" height="15.67" fill="#3d977d"/>
<line x1="1092.25" x2="1092.25" y1="422.46" y2="447.02" stroke="#74b3a3" stroke-width="1"/>
<rect x="1090.55" y="438.94" width="3.4" height="6.95" fill="#3d977d"/>
<line x1="1096.13" x2="1096.13" y1="456.07" y2="488.70" stroke="#e48784" stroke-width="1"/>
<rect x="1094.43" y="456.07" width="3.4" height="7.59" fill="#de5852"/>
<line x1="1100.00" x2="1100.00" y1="433.77" y2="490.32" stroke="#e48784" stroke-width="1"/>
<rect x="1098.30" y="463.66" width="3.4" height="12.12" fill="#de5852"/>
<line x1="1103.88" x2="1103.88" y1="497.81" y2="545.15" stroke="#e48784" stroke-width="1"/>
<rect x="1102.18" y="497.81" width="3.4" height="45.24" fill="#de5852"/>
<line x1="1107.76" x2="1107.76" y1="484.40" y2="528.99" stroke="#74b3a3" stroke-width="1"/>
<rect x="1106.06" y="489.73" width="3.4" height="39.26" fill="#3d977d"/>
<line x1="1111.64" x2="1111.64" y1="471.16" y2="510.25" stroke="#e48784" stroke-width="1"/>
<rect x="1109.94" y="481.66" width="3.4" height="16.96" fill="#de5852"/>
<line x1="1115.51" x2="1115.51" y1="493.77" y2="520.43" stroke="#e48784" stroke-width="1"/>
<rect x="1113.81" y="505.40" width="3.4" height="2.59" fill="#de5852"/>
<line x1="1119.39" x2="1119.39" y1="453.48" y2="477.71" stroke="#74b3a3" stroke-width="1"/>
<rect x="1117.69" y="457.68" width="3.4" height="20.03" fill="#3d977d"/>
<line x1="1123.27" x2="1123.27" y1="454.45" y2="471.25" stroke="#e48784" stroke-width="1"/>
<rect x="1121.57" y="461.56" width="3.4" height="5.33" fill="#de5852"/>
<line x1="1127.15" x2="1127.15" y1="436.68" y2="468.02" stroke="#74b3a3" stroke-width="1"/>
<rect x="1125.45" y="444.27" width="3.4" height="23.75" fill="#3d977d"/>
<line x1="1131.03" x2="1131.03" y1="435.39" y2="454.77" stroke="#e48784" stroke-width="1"/>
<rect x="1129.33" y="442.17" width="3.4" height="7.43" fill="#de5852"/>
<line x1="1134.90" x2="1134.90" y1="451.54" y2="459.62" stroke="#74b3a3" stroke-width="1"/>
<rect x="1133.20" y="454.45" width="3.4" height="2.26" fill="#3d977d"/>
</g>
<line x1="8" x2="1192" y1="563.3" y2="563.3" stroke="#787d86" stroke-width="1"/>
<line x1="1134.4" x2="1134.4" y1="66" y2="590" stroke="#787d86" stroke-width="1"/>
<text x="8.80" y="16.50" font-size="11" fill="#2b2f38" textLength="41.5" lengthAdjust="spacingAndGlyphs">tscharli77</text>
<text x="55.20" y="16.50" font-size="11" fill="#2b2f38" textLength="51.7" lengthAdjust="spacingAndGlyphs">freigegeben</text>
<text x="112.60" y="16.50" font-size="11" fill="#2b2f38" textLength="11.3" lengthAdjust="spacingAndGlyphs">für</text>
<text x="128.00" y="16.50" font-size="11" fill="#2b2f38" textLength="76.0" lengthAdjust="spacingAndGlyphs">TradingView.com,</text>
<text x="208.70" y="16.50" font-size="11" fill="#2b2f38" textLength="16.0" lengthAdjust="spacingAndGlyphs">Sep</text>
<text x="228.60" y="16.50" font-size="11" fill="#2b2f38" textLength="11.3" lengthAdjust="spacingAndGlyphs">16,</text>
<text x="244.60" y="16.50" font-size="11" fill="#2b2f38" textLength="20.3" lengthAdjust="spacingAndGlyphs">2023</text>
<text x="269.60" y="16.50" font-size="11" fill="#2b2f38" textLength="21.9" lengthAdjust="spacingAndGlyphs">15:25</text>
<text x="295.90" y="16.50" font-size="11" fill="#2b2f38" textLength="27.1" lengthAdjust="spacingAndGlyphs">UTC+2</text>
<text x="15.30" y="39.20" font-size="10.9" fill="#4c505b" textLength="89.4" lengthAdjust="spacingAndGlyphs">DAX Index, 1T, XETR</text>
<text x="110.80" y="39.20" font-size="10.9" fill="#4c505b" textLength="6.8" lengthAdjust="spacingAndGlyphs">O</text>
<text x="118.40" y="39.20" font-size="10.9" fill="#e0554f" textLength="38.8" lengthAdjust="spacingAndGlyphs">15940.39</text>
<text x="163.30" y="39.20" font-size="10.9" fill="#4c505b" textLength="6.2" lengthAdjust="spacingAndGlyphs">H</text>
<text x="170.80" y="39.20" font-size="10.9" fill="#e0554f" textLength="39.4" lengthAdjust="spacingAndGlyphs">15989.30</text>
<text x="216.70" y="39.20" font-size="10.9" fill="#4c505b" textLength="4.6" lengthAdjust="spacingAndGlyphs">L</text>
<text x="221.80" y="39.20" font-size="10.9" fill="#e0554f" textLength="39.2" lengthAdjust="spacingAndGlyphs">15871.17</text>
<text x="267.30" y="39.20" font-size="10.9" fill="#4c505b" textLength="6.2" lengthAdjust="spacingAndGlyphs">C</text>
<text x="273.40" y="39.20" font-size="10.9" fill="#e0554f" textLength="39.3" lengthAdjust="spacingAndGlyphs">15893.53</text>
<text x="1142.00" y="541.71" font-size="11.6" fill="#50545e" textLength="40.4" lengthAdjust="spacingAndGlyphs">6200.00</text>
<text x="1142.00" y="492.52" font-size="11.6" fill="#50545e" textLength="40.4" lengthAdjust="spacingAndGlyphs">6400.00</text>
<text x="1142.00" y="443.33" font-size="11.6" fill="#50545e" textLength="40.4" lengthAdjust="spacingAndGlyphs">6600.00</text>
<text x="1142.00" y="394.14" font-size="11.6" fill="#50545e" textLength="40.4" lengthAdjust="spacingAndGlyphs">6800.00</text>
<text x="1142.00" y="344.95" font-size="11.6" fill="#50545e" textLength="40.4" lengthAdjust="spacingAndGlyphs">7000.00</text>
<text x="1142.00" y="295.76" font-size="11.6" fill="#50545e" textLength="40.4" lengthAdjust="spacingAndGlyphs">7200.00</text>
<text x="1142.00" y="246.57" font-size="11.6" fill="#50545e" textLength="40.4" lengthAdjust="spacingAndGlyphs">7400.00</text>
<text x="1142.00" y="197.38" font-size="11.6" fill="#50545e" textLength="40.4" lengthAdjust="spacingAndGlyphs">7600.00</text>
<text x="1142.00" y="148.19" font-size="11.6" fill="#50545e" textLength="40.4" lengthAdjust="spacingAndGlyphs">7800.00</text>
<text x="1142.00" y="99.00" font-size="11.6" fill="#50545e" textLength="40.4" lengthAdjust="spacingAndGlyphs">8000.00</text>
<rect x="1137.6" y="26" width="50.6" height="20.8" rx="3" fill="#ffffff"/>
<text x="1144.80" y="40.80" font-size="11" fill="#23272f" textLength="20.2" lengthAdjust="spacingAndGlyphs">EUR</text>
<rect x="1099" y="50" width="89" height="16" fill="#e9eef6"/>
<text x="1103.80" y="61.80" font-size="11.5" fill="#1f242c" stroke="#1f242c" stroke-width="0.25" textLength="25.4" lengthAdjust="spacingAndGlyphs">Hoch</text>
<text x="1141.70" y="61.80" font-size="11.5" fill="#1f242c" stroke="#1f242c" stroke-width="0.25" textLength="40.4" lengthAdjust="spacingAndGlyphs">8151.57</text>
<rect x="1105" y="538.3" width="82.5" height="15.7" fill="#e9eef6"/>
<text x="1109.40" y="550.30" font-size="11.5" fill="#1f242c" stroke="#1f242c" stroke-width="0.25" textLength="19.5" lengthAdjust="spacingAndGlyphs">Tief</text>
<text x="1142.00" y="550.30" font-size="11.5" fill="#1f242c" stroke="#1f242c" stroke-width="0.25" textLength="40.4" lengthAdjust="spacingAndGlyphs">6167.82</text>
<text x="75.20" y="580.30" font-size="11.2" fill="#555963" textLength="18.0" lengthAdjust="spacingAndGlyphs">Mrz</text>
<text x="160.10" y="580.30" font-size="11.2" fill="#555963" textLength="18.6" lengthAdjust="spacingAndGlyphs">Apr</text>
<text x="244.40" y="580.30" font-size="11.2" fill="#555963" textLength="5.2" lengthAdjust="spacingAndGlyphs">3</text>
<text x="315.55" y="580.30" font-size="11.2" fill="#555963" textLength="17.5" lengthAdjust="spacingAndGlyphs">Jun</text>
<text x="398.75" y="580.30" font-size="11.2" fill="#555963" textLength="13.5" lengthAdjust="spacingAndGlyphs">Jul</text>
<text x="482.00" y="580.30" font-size="11.2" fill="#555963" textLength="18.0" lengthAdjust="spacingAndGlyphs">Aug</text>
<text x="571.30" y="580.30" font-size="11.2" fill="#555963" textLength="18.2" lengthAdjust="spacingAndGlyphs">Sep</text>
<text x="648.80" y="580.30" font-size="11.2" fill="#555963" textLength="18.2" lengthAdjust="spacingAndGlyphs">Okt</text>
<text x="737.55" y="580.30" font-size="11.2" fill="#555963" textLength="19.5" lengthAdjust="spacingAndGlyphs">Nov</text>
<text x="1055.50" y="580.30" font-size="11.2" fill="#555963" textLength="18.2" lengthAdjust="spacingAndGlyphs">Mrz</text>
<path d="M403.7 563.8 H477.5 V583.6 a2 2 0 0 1 -2 2 H405.7 a2 2 0 0 1 -2 -2 Z" fill="#14312b"/>
<text x="412.80" y="579.9" font-size="12" fill="#ffffff" stroke="#ffffff" stroke-width="0.45" textLength="56.0" lengthAdjust="spacingAndGlyphs">13-07-2007</text>
<path d="M860.6 563.8 H992.8 V583.6 a2 2 0 0 1 -2 2 H862.6 a2 2 0 0 1 -2 -2 Z" fill="#14312b"/>
<text x="869.00" y="579.9" font-size="12" fill="#ffffff" stroke="#ffffff" stroke-width="0.45" textLength="46.0" lengthAdjust="spacingAndGlyphs">02-01-08</text>
<text x="927.50" y="579.9" font-size="12" fill="#ffffff" stroke="#ffffff" stroke-width="0.45" textLength="56.9" lengthAdjust="spacingAndGlyphs">23-01-2008</text>
<path d="M908.2 71.6 L898.3 83.2 L915.5 71.6 Z" fill="#cbdcec" fill-opacity="0.72"/>
<rect x="905.9" y="52.1" width="61.3" height="19.5" rx="3" fill="#cbdcec" fill-opacity="0.72"/>
<path d="M908.9 52.1 H964.2 a3 3 0 0 1 3 3 V68.6 a3 3 0 0 1 -3 3 H915.5 L898.3 83.2 L908.2 71.6 H908.9 a3 3 0 0 1 -3 -3 V55.1 a3 3 0 0 1 3 -3 Z" fill="none" stroke="#6a8ff5" stroke-width="1.9" stroke-linejoin="round"/>
<text x="914.7" y="64.3" font-size="11.7" fill="#20272c" stroke="#20272c" stroke-width="0.38" textLength="43.7" lengthAdjust="spacingAndGlyphs">8045.97</text>
<path d="M966.8 466.2 L956.6 479.0 L973.8 466.2 Z" fill="#cbdcec" fill-opacity="0.72"/>
<rect x="964.6" y="447.6" width="60.3" height="18.6" rx="3" fill="#cbdcec" fill-opacity="0.72"/>
<path d="M967.6 447.6 H1021.9 a3 3 0 0 1 3 3 V463.2 a3 3 0 0 1 -3 3 H973.8 L956.6 479.0 L966.8 466.2 H967.6 a3 3 0 0 1 -3 -3 V450.6 a3 3 0 0 1 3 -3 Z" fill="none" stroke="#6a8ff5" stroke-width="1.9" stroke-linejoin="round"/>
<text x="973.3" y="459.4" font-size="11.7" fill="#20272c" stroke="#20272c" stroke-width="0.38" textLength="43.7" lengthAdjust="spacingAndGlyphs">6439.21</text>
<g fill="#1b2d2a"><path d="M8.6 600.4 H15.3 V607.9 H11.6 V603.7 H8.6 Z"/><circle cx="18" cy="602" r="1.45"/><path d="M20.3 600.4 H24.4 L21.5 607.9 H17.5 Z"/></g>
<text x="28.10" y="607.90" font-size="10.5" fill="#4a535e" textLength="57.3" lengthAdjust="spacingAndGlyphs">TradingView</text>
</svg>
</body></html>
